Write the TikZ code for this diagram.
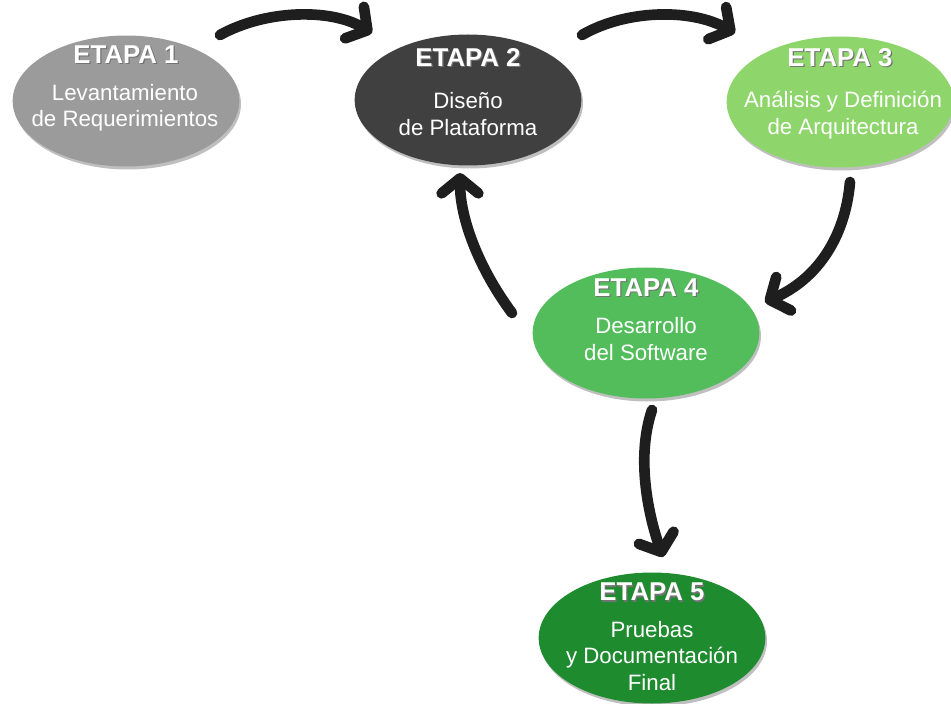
\documentclass[tikz,border=0pt]{standalone}
\usepackage{fontspec}
\setmainfont{Liberation Sans}
\usetikzlibrary{shapes.geometric,arrows.meta,shadows,calc}
\definecolor{grisclaro}{HTML}{9B9B9B}
\definecolor{grisoscuro}{HTML}{404040}
\definecolor{verdeclaro}{HTML}{8ED66B}
\definecolor{verdemedio}{HTML}{52BD5A}
\definecolor{verdeoscuro}{HTML}{1F8B2F}
\definecolor{negroflecha}{HTML}{1E1E1E}
\newcommand{\sombra}[1]{\makebox[0pt][l]{\hspace{0.35mm}\raisebox{-0.45mm}{\color{black!55}#1}}#1}
\tikzset{
etapa/.style={
  ellipse,
  minimum width=68mm,
  minimum height=39.3mm,
  inner sep=0pt,
  drop shadow={shadow xshift=0.5mm,shadow yshift=-0.9mm,fill=black,opacity=0.25}
  },
titulo/.style={text=white,font=\bfseries\fontsize{22}{25}\selectfont,inner sep=0pt},
texto/.style={text=white,align=center,font=\fontsize{19}{22.5}\selectfont,inner sep=0pt},
flecha/.style={-{Straight Barb[length=4.5mm,width=11mm,round]},line width=3.2mm,line cap=round,draw=negroflecha}
}
\begin{document}
\begin{tikzpicture}[x=0.3mm,y=-0.3mm]
  \useasboundingbox (0,0) rectangle (951,704);

  \node[etapa,fill=grisclaro]   (etapa1) at (126,101) {};
  \node[etapa,fill=grisoscuro]  (etapa2) at (468,100) {};
  \node[etapa,fill=verdeclaro]  (etapa3) at (840,102) {};
  \node[etapa,fill=verdemedio]  (etapa4) at (646,333) {};
  \node[etapa,fill=verdeoscuro] (etapa5) at (652,638) {};

  \node[titulo] (tit1) at (126,55)  {\sombra{ETAPA 1}};
  \node[titulo] (tit2) at (468,58)  {\sombra{ETAPA 2}};
  \node[titulo] (tit3) at (840,58)  {\sombra{ETAPA 3}};
  \node[titulo] (tit4) at (646,288) {\sombra{ETAPA 4}};
  \node[titulo] (tit5) at (652,593) {\sombra{ETAPA 5}};

  \node[texto] (desc1) at (125,108) {Levantamiento\\de Requerimientos};
  \node[texto] (desc2) at (468,114) {Diseño\\de Plataforma};
  \node[texto] (desc3) at (843,115) {Análisis y Definición\\de Arquitectura};
  \node[texto] (desc4) at (646,339) {Desarrollo\\del Software};
  \node[texto] (desc5) at (652,656) {Pruebas\\y Documentación\\Final};

  \draw[flecha] ($(etapa1)+(94,-66)$) .. controls ($(etapa1)+(139,-91)$) and ($(etapa2)+(-138,-92)$) .. ($(etapa2)+(-96,-67)$);
  \draw[flecha] ($(etapa2)+(114,-65)$) .. controls ($(etapa2)+(157,-90)$) and ($(etapa3)+(-150,-94)$) .. ($(etapa3)+(-105,-69)$);
  \draw[flecha] ($(etapa3)+(10,80)$) .. controls ($(etapa3)+(5,138)$) and ($(etapa4)+(169,-53)$) .. ($(etapa4)+(119,-31)$);
  \draw[flecha] ($(etapa4)+(-134,-20)$) .. controls ($(etapa4)+(-166,-63)$) and ($(etapa2)+(-8,120)$) .. ($(etapa2)+(-8,73)$);
  \draw[flecha] ($(etapa4)+(6,77)$) .. controls ($(etapa4)+(-11,127)$) and ($(etapa5)+(-2,-118)$) .. ($(etapa5)+(11,-81)$);

\end{tikzpicture}
\end{document}
